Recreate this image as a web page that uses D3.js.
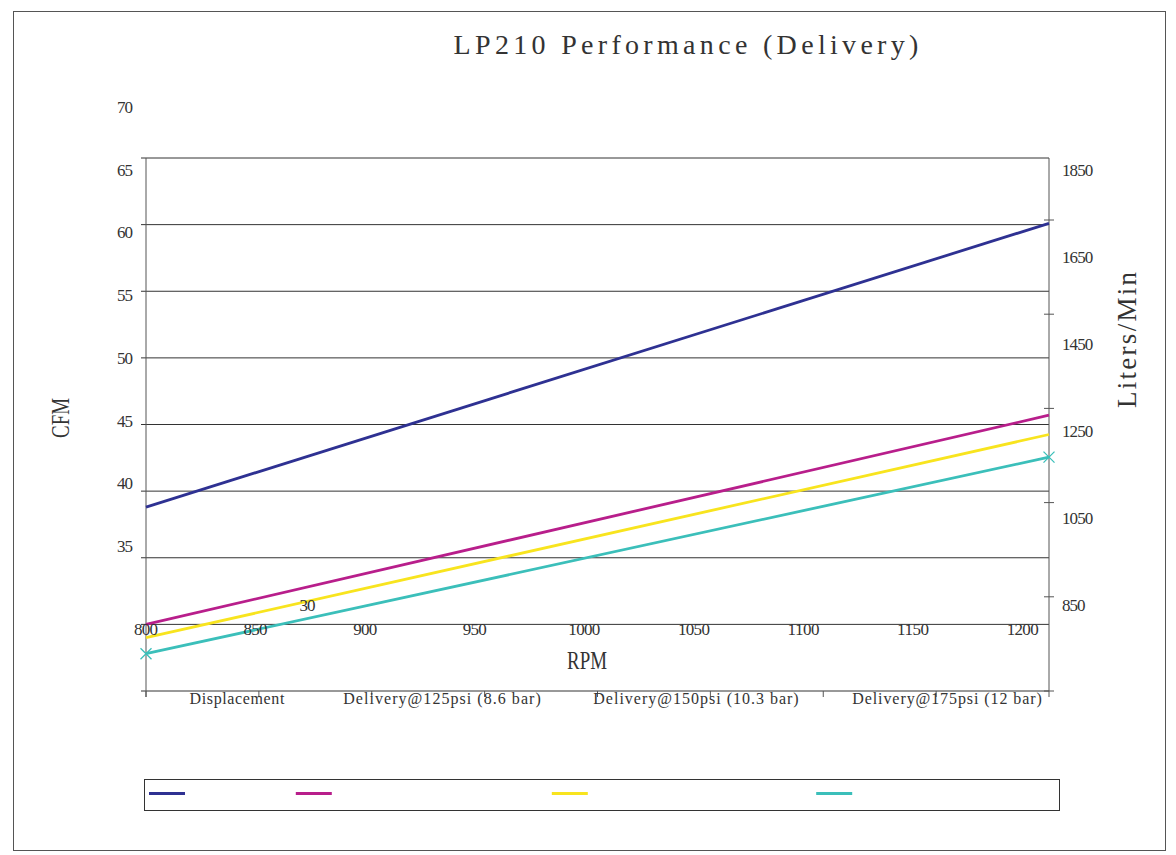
<!DOCTYPE html>
<html>
<head>
<meta charset="utf-8">
<script src="https://cdn.jsdelivr.net/npm/d3@7"></script>
<style>
  body { margin: 0; background: #fff; }
  text { font-family: "Liberation Serif", "DejaVu Serif", serif; fill: #333; }
</style>
</head>
<body>
<div id="chart"></div>
<script>
// Chart data
const rpm = [800, 1212];
const seriesNames = ["Displacement", "Delivery@125psi (8.6 bar)", "Delivery@150psi (10.3 bar)", "Delivery@175psi (12 bar)"];
const displacement = [38.8, 60.1];
const delivery125 = [30.0, 45.7];
const delivery150 = [29.0, 44.25];
const delivery175 = [27.8, 42.55];
const rpmTicks = [800, 850, 900, 950, 1000, 1050, 1100, 1150, 1200];
const cfmGrid = [25, 30, 35, 40, 45, 50, 55, 60, 65];
const cfmLabels = [70, 65, 60, 55, 50, 45, 40, 35, 30];
const litersTicks = [650, 850, 1050, 1250, 1450, 1650];
const litersLabels = [850, 1050, 1250, 1450, 1650, 1850];

const seriesColors = ["#2e3192", "#b81e8b", "#f8e41e", "#3bbfba"];
const seriesValues = [displacement, delivery125, delivery150, delivery175];

const W = 1176, H = 855;
const pLeft = 146, pRight = 1049, pTop = 158, pBottom = 691;
// where the series names sit under the plot in the reference
const catCenters = [237, 442, 696, 947];

const svg = d3.select("#chart").append("svg")
    .attr("width", W)
    .attr("height", H);

// outer frame
svg.append("rect")
    .attr("x", 13.5).attr("y", 11.5)
    .attr("width", 1152).attr("height", 839)
    .attr("fill", "none")
    .attr("stroke", "#555");

// scales
const x = d3.scaleLinear().domain([800, 1212]).range([pLeft, pRight]);
const y = d3.scaleLinear().domain([25, 65]).range([pBottom, pTop]);
const yLab = d3.scaleLinear().domain([35, 70]).range([552, 113]);
const yL = d3.scaleLinear().domain([650, 1650]).range([pBottom, 220]);
const yLLab = d3.scaleLinear().domain([850, 1850]).range([610.5, 175.5]);
const cat = d3.scaleLinear().domain([0, 8]).range([pLeft, pRight]);

// text helper: mono-like width through textLength
function label(g, txt, px, py, size, cw, anchor, rot, adjust) {
    const t = g.append("text")
        .attr("x", px).attr("y", py)
        .attr("font-size", size)
        .attr("text-anchor", anchor || "middle")
        .attr("textLength", String(txt).length * cw)
        .attr("lengthAdjust", adjust || "spacing")
        .text(txt);
    if (rot) t.attr("transform", `rotate(${rot},${px},${py})`);
    return t;
}

// horizontal gridlines (with small ticks left of the axis)
svg.append("g").selectAll("line")
    .data(cfmGrid)
    .enter().append("line")
    .attr("x1", pLeft - 5).attr("x2", pRight)
    .attr("y1", d => y(d)).attr("y2", d => y(d))
    .attr("stroke", "#333")
    .attr("stroke-width", 1);

// left and right axis lines
svg.append("line")
    .attr("x1", pLeft).attr("x2", pLeft).attr("y1", pTop).attr("y2", pBottom + 6)
    .attr("stroke", "#555");
svg.append("line")
    .attr("x1", pRight).attr("x2", pRight).attr("y1", pTop).attr("y2", pBottom)
    .attr("stroke", "#555");

// right axis ticks
svg.append("g").selectAll("line")
    .data(litersTicks)
    .enter().append("line")
    .attr("x1", pRight - 5).attr("x2", pRight + 5)
    .attr("y1", d => yL(d)).attr("y2", d => yL(d))
    .attr("stroke", "#555");

// bottom (category) ticks
svg.append("g").selectAll("line")
    .data(d3.range(0, 9))
    .enter().append("line")
    .attr("x1", d => cat(d)).attr("x2", d => cat(d))
    .attr("y1", pBottom).attr("y2", pBottom + 6)
    .attr("stroke", "#555");

// series lines
const line = d3.line()
    .x((d, i) => x(rpm[i]))
    .y(d => y(d));

svg.append("g").selectAll("path")
    .data(seriesValues)
    .enter().append("path")
    .attr("d", d => line(d))
    .attr("fill", "none")
    .attr("stroke", (d, i) => seriesColors[i])
    .attr("stroke-width", 2.8);

// x markers on the last series
const mk = svg.append("g");
delivery175.forEach((v, i) => {
    const cx = x(rpm[i]), cy = y(v), s = 5.5;
    mk.append("path")
        .attr("d", `M${cx - s},${cy - s}L${cx + s},${cy + s}M${cx - s},${cy + s}L${cx + s},${cy - s}`)
        .attr("stroke", seriesColors[3])
        .attr("stroke-width", 1.3)
        .attr("fill", "none");
});

// labels
const lab = svg.append("g");

label(lab, "LP210 Performance (Delivery)", 686, 54, 28, 16.6, "middle");

// x tick labels
rpmTicks.forEach(v => label(lab, v, x(v), 635, 17, 8, "middle"));
label(lab, "RPM", 587, 669, 26, 13.3, "middle", 0, "spacingAndGlyphs");

// left labels (30 sits off on its own in the reference)
cfmLabels.filter(v => v >= 35).forEach(v => label(lab, v, 117, yLab(v), 17, 8, "start"));
label(lab, cfmLabels[8], 307.5, 611, 17, 8, "middle");
label(lab, "CFM", 69, 418, 26, 13.3, "middle", -90, "spacingAndGlyphs");

// right labels
litersLabels.forEach(v => label(lab, v, 1062, yLLab(v), 17, 7.8, "start"));
label(lab, "Liters/Min", 1136, 340, 27, 13.6, "middle", -90);

// category labels under the plot
seriesNames.forEach((n, i) => label(lab, n, catCenters[i], 704, 16, 7.9, "middle"));

// legend box with swatches only
svg.append("rect")
    .attr("x", 144.5).attr("y", 779.5)
    .attr("width", 915).attr("height", 31)
    .attr("fill", "none")
    .attr("stroke", "#333");

let lx = 149;
seriesNames.forEach((n, i) => {
    svg.append("line")
        .attr("x1", lx).attr("x2", lx + 36)
        .attr("y1", 793.5).attr("y2", 793.5)
        .attr("stroke", seriesColors[i])
        .attr("stroke-width", 3);
    lx += 46 + n.length * 8.4;
});
</script>
</body>
</html>
